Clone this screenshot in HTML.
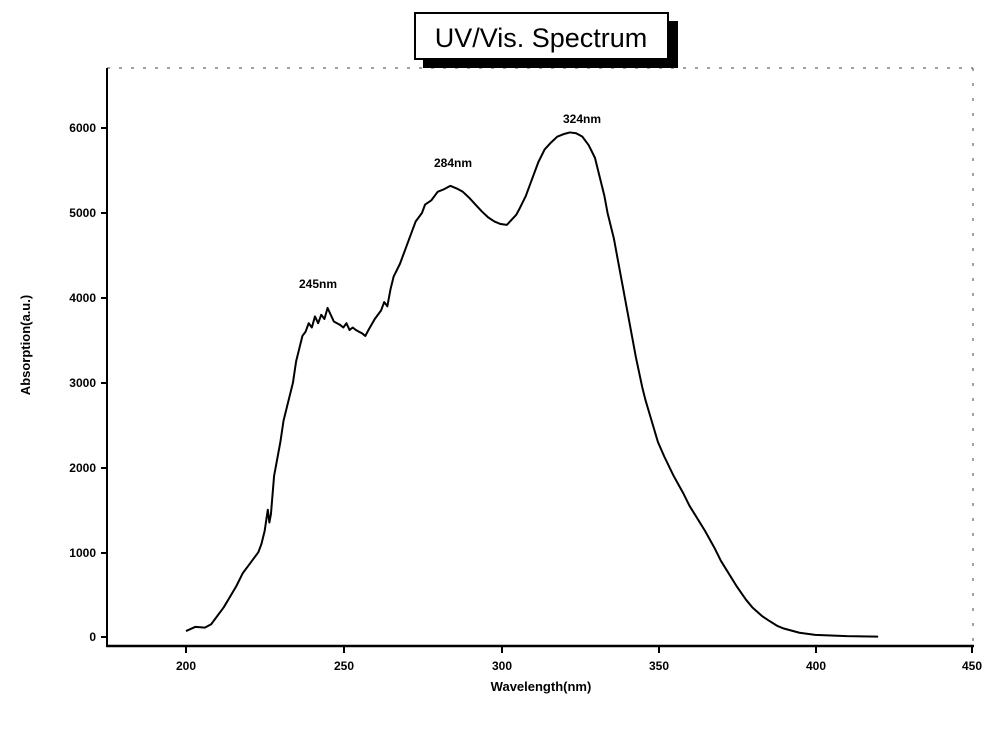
<!DOCTYPE html>
<html><head><style>
body{margin:0;background:#fff;}
svg{display:block;font-family:"Liberation Sans",Arial,sans-serif;}
</style></head><body>
<svg width="1004" height="729" viewBox="0 0 1004 729">
<rect width="1004" height="729" fill="#fff"/>
<line x1="107" y1="68" x2="973" y2="68" stroke="#444" stroke-width="1" stroke-dasharray="3,9"/>
<line x1="973" y1="68" x2="973" y2="646" stroke="#444" stroke-width="1" stroke-dasharray="3,12"/>
<line x1="107" y1="68" x2="107" y2="646" stroke="#000" stroke-width="2"/>
<line x1="106" y1="646" x2="974" y2="646" stroke="#000" stroke-width="2.5"/>
<rect x="423" y="21" width="255" height="47" fill="#000"/>
<rect x="415" y="13" width="253" height="46" fill="#fff" stroke="#000" stroke-width="2"/>
<text x="541" y="47" font-size="27" text-anchor="middle">UV/Vis. Spectrum</text>
<g stroke="#000" stroke-width="2">
<line x1="186" y1="646" x2="186" y2="653"/><line x1="344" y1="646" x2="344" y2="653"/>
<line x1="502" y1="646" x2="502" y2="653"/><line x1="659" y1="646" x2="659" y2="653"/>
<line x1="816" y1="646" x2="816" y2="653"/><line x1="972" y1="646" x2="972" y2="653"/>
<line x1="107" y1="637" x2="101" y2="637"/><line x1="107" y1="553" x2="101" y2="553"/>
<line x1="107" y1="468" x2="101" y2="468"/><line x1="107" y1="383" x2="101" y2="383"/>
<line x1="107" y1="298" x2="101" y2="298"/><line x1="107" y1="213" x2="101" y2="213"/>
<line x1="107" y1="128" x2="101" y2="128"/>
</g>
<g font-size="12" font-weight="bold" text-anchor="middle">
<text x="186" y="670">200</text><text x="344" y="670">250</text><text x="502" y="670">300</text>
<text x="659" y="670">350</text><text x="816" y="670">400</text><text x="972" y="670">450</text>
</g>
<g font-size="12" font-weight="bold" text-anchor="end">
<text x="96" y="641">0</text><text x="96" y="557">1000</text><text x="96" y="472">2000</text>
<text x="96" y="387">3000</text><text x="96" y="302">4000</text><text x="96" y="217">5000</text>
<text x="96" y="132">6000</text>
</g>
<text x="541" y="691" font-size="13" font-weight="bold" text-anchor="middle">Wavelength(nm)</text>
<text transform="translate(30,345) rotate(-90)" font-size="13" font-weight="bold" text-anchor="middle">Absorption(a.u.)</text>
<g font-size="12" font-weight="bold" text-anchor="middle">
<text x="318" y="288">245nm</text><text x="453" y="167">284nm</text><text x="582" y="123">324nm</text>
</g>
<g transform="translate(-443.2,637) scale(3.146,-0.0848)">
<polyline fill="none" stroke="#000" stroke-width="2" vector-effect="non-scaling-stroke" stroke-linejoin="round" points="
200,70 203,120 206,110 208,150 212,350 216,600 218,750 220,850 222,950 223,1000 224,1100 225,1250 226,1500 226.5,1350 227,1450 228,1900 229,2100 230,2300 231,2550 232,2700 233,2850 234,3000 235,3250 236,3400 237,3550 238,3600 239,3700 240,3650 241,3780 242,3700 243,3800 244,3750 245,3880 246,3800 247,3720 248,3700 249,3680 250,3650 251,3700 252,3620 253,3650 254,3620 255,3600 256,3580 257,3550 258,3620 260,3750 262,3850 263,3950 264,3900 265,4100 266,4250 268,4400 270,4600 272,4800 273,4900 275,5000 276,5100 278,5150 280,5250 282,5280 284,5320 286,5290 288,5250 290,5180 292,5100 294,5020 296,4950 298,4900 300,4870 302,4860 303,4900 305,4980 306,5050 308,5200 310,5400 312,5600 314,5750 316,5830 318,5900 320,5930 322,5950 324,5940 326,5900 328,5800 330,5650 331,5500 333,5200 334,5000 336,4700 337,4500 339,4100 340,3900 342,3500 343,3300 345,2950 346,2800 348,2550 350,2300 352,2130 355,1900 358,1700 360,1550 363,1370 365,1250 368,1050 370,900 373,720 375,600 378,440 380,350 383,250 385,200 388,130 390,100 395,50 400,25 410,10 420,5"/>
</g>
</svg>
</body></html>
